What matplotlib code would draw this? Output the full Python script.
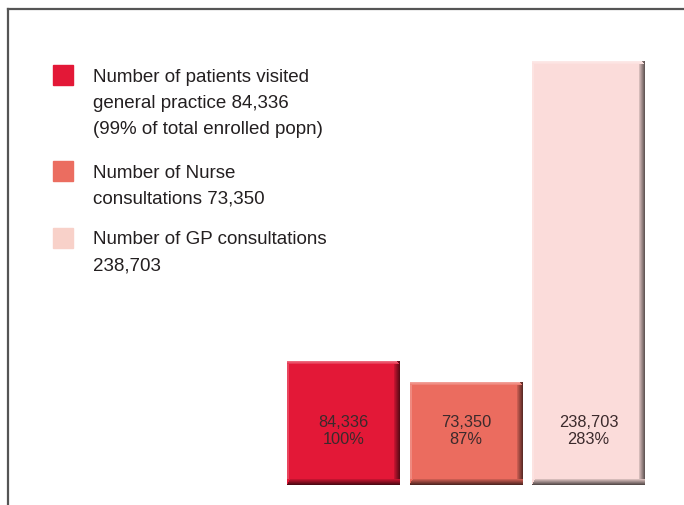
import matplotlib
matplotlib.use("Agg")
import matplotlib.pyplot as plt
from matplotlib.patches import Rectangle
from matplotlib.lines import Line2D
import matplotlib.colors as mcolors
import numpy as np

plt.rcParams['font.family'] = ['Liberation Sans', 'DejaVu Sans']

categories = ["Patients visited general practice", "Nurse consultations", "GP consultations"]
values = [84336, 73350, 238703]
value_labels = ["84,336", "73,350", "238,703"]
pct_labels = ["100%", "87%", "283%"]
bar_colors = ["#E31837", "#EB6C5F", "#FBDCDA"]
legend_colors = ["#E31837", "#EB6D60", "#F8D1C9"]
legend_texts = [
    "Number of patients visited\ngeneral practice 84,336\n(99% of total enrolled popn)",
    "Number of Nurse\nconsultations 73,350",
    "Number of GP consultations\n238,703",
]

W, H = 684, 506
fig = plt.figure(figsize=(W / 100, H / 100), dpi=100)
ax_bottom_px, ax_top_px = 486, 10
ax = fig.add_axes([0, (H - ax_bottom_px) / H, 1, (ax_bottom_px - ax_top_px) / H])
ax.set_xlim(-343.5 / 122.5, (684 - 343.5) / 122.5)
ymin, ymax = 20535, 265500
ax.set_ylim(ymin, ymax)
ax.axis('off')

x = np.arange(len(values))
width = 113 / 122.5
bars = ax.bar(x, values, width=width, color=bar_colors, zorder=2, linewidth=0)

px_x = 1 / 122.5
px_y = (ymax - ymin) / (ax_bottom_px - ax_top_px)


def shade(c, f):
    r = np.array(mcolors.to_rgb(c))
    if f < 0:
        return tuple(r * (1 + f))
    return tuple(r + (1 - r) * f)


for b, c in zip(bars, bar_colors):
    x0, w, h = b.get_x(), b.get_width(), b.get_height()
    # right side dark gradient
    n = 6
    for i in range(n):
        f = -0.15 - 0.45 * (i / (n - 1))
        ax.add_patch(Rectangle((x0 + w - (n - i) * px_x, ymin), px_x, h - ymin,
                               color=shade(c, f), zorder=3, linewidth=0))
    # bottom dark gradient
    for i in range(n):
        f = -0.15 - 0.5 * (i / (n - 1))
        ax.add_patch(Rectangle((x0 + (n - i - 1) * px_x * 0.6, ymin + (n - 1 - i) * px_y),
                               w - (n - i - 1) * px_x * 0.6, px_y,
                               color=shade(c, f), zorder=4, linewidth=0))
    # top light band
    for i in range(3):
        f = 0.35 - 0.1 * i
        ax.add_patch(Rectangle((x0, h - (i + 1) * px_y), w - (3 - i) * px_x, px_y,
                               color=shade(c, f), zorder=4, linewidth=0))
    # left light edge
    ax.add_patch(Rectangle((x0, ymin + 6 * px_y), 2 * px_x, h - ymin - 9 * px_y,
                           color=shade(c, 0.2), zorder=4, linewidth=0))

label_y = ymin + (486 - 431) * px_y
for xi, vl, pl in zip(x, value_labels, pct_labels):
    ax.text(xi, label_y, vl + "\n" + pl, ha='center', va='center', fontsize=11.8,
            color="#3b2a2c", linespacing=1.2, zorder=5)

# legend
leg_sq_tops = [66, 162, 229]
for top, col, txt in zip(leg_sq_tops, legend_colors, legend_texts):
    fig.patches.append(Rectangle((53 / W, 1 - (top + 20) / H), 20 / W, 20 / H,
                                 transform=fig.transFigure, color=col, figure=fig))
    fig.text(93 / W, 1 - (top + 2.5) / H, txt, ha='left', va='top', fontsize=13.5,
             color="#231F20", linespacing=1.72)

# frame lines
fig.add_artist(Line2D([8 / W, 1], [1 - 10 / H, 1 - 10 / H], color="#555555", lw=1.6,
                      transform=fig.transFigure))
fig.add_artist(Line2D([8 / W, 8 / W], [1 - 10 / H, 0], color="#555555", lw=1.6,
                      transform=fig.transFigure))

fig.savefig("out.png", dpi=100)
